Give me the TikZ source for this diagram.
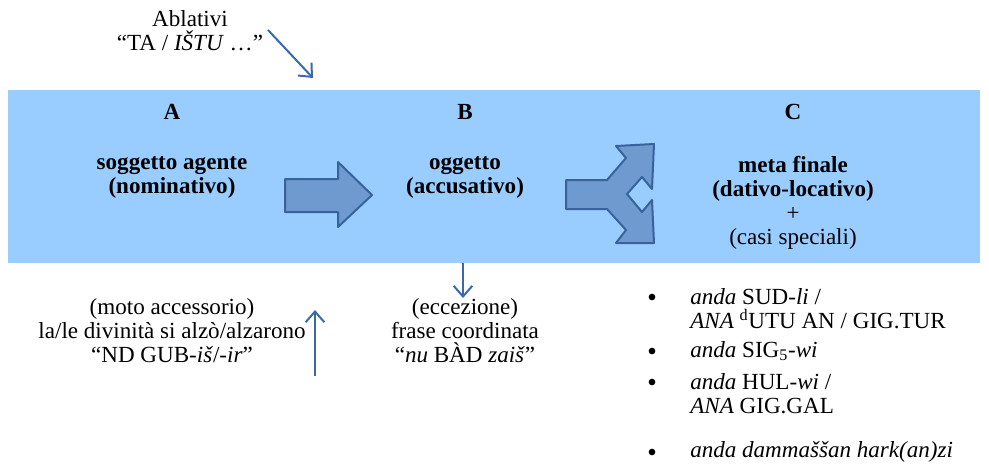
\documentclass[tikz,border=0pt]{standalone}
\usepackage{fontspec}
\setmainfont{Liberation Serif}
\usepackage{tikz}
\usetikzlibrary{arrows.meta}

\definecolor{bandblue}{RGB}{153,204,255}
\definecolor{blockfill}{RGB}{111,154,207}
\definecolor{blockline}{RGB}{55,98,158}
\definecolor{lineblue}{RGB}{58,104,170}

\begin{document}
\begin{tikzpicture}[x=0.75pt,y=-0.75pt,
  txt/.style={font=\fontsize{17.3}{18}\selectfont, align=center, inner sep=0pt},
  boldtxt/.style={txt, font=\fontsize{17.3}{18}\selectfont\bfseries},
  band/.style={fill=bandblue, draw=none, minimum width=729pt, minimum height=129.75pt, inner sep=0pt},
  block/.style={fill=blockfill, draw=blockline, line width=1.5pt, line join=round},
  thinarrow/.style={draw=lineblue, line width=1.5pt, -{Straight Barb[length=8pt,width=14pt]}},
  itemtxt/.style={txt, align=left, anchor=west},
  bulletmark/.style={circle, fill=black, inner sep=0pt, minimum size=5pt}]

  \useasboundingbox (0,0) rectangle (989,465);

  \node[band] (band) at (494,176.5) {};

  \node[txt] (ablativi) at (190,31) {Ablativi\\“TA / \textit{IŠTU} …”};

  \node[boldtxt] (labA) at (172,112) {A};
  \node[boldtxt] (labB) at (465,112) {B};
  \node[boldtxt] (labC) at (793,112) {C};

  \node[boldtxt] (soggetto) at (172,177) {soggetto agente\\(nominativo)};
  \node[boldtxt] (oggetto) at (465,177) {oggetto\\(accusativo)};
  \node[txt] (meta) at (793,203) {\textbf{meta finale}\\\textbf{(dativo-locativo)}\\+\\(casi speciali)};

  \draw[block] (285,179) -- (338,179) -- (338,162) -- (372,195) -- (338,227)
    -- (338,212) -- (285,212) -- cycle;

  \draw[block] (566,180) -- (607,180) -- (626,158) -- (616,146) -- (654,144)
    -- (652,189) -- (642,177) -- (627,194) -- (642,212) -- (652,200)
    -- (654,243) -- (616,243) -- (626,230) -- (607,209) -- (566,209) -- cycle;

  \node[txt] (moto) at (172,331) {(moto accessorio)\\la/le divinità si alzò/alzarono\\“ND GUB-\textit{iš}/\textit{-ir}”};
  \node[txt] (eccezione) at (465,331) {(eccezione)\\frase coordinata\\“\textit{nu} BÀD \textit{zaiš}”};

  \node[bulletmark] (bul1) at (652,297) {};
  \node[itemtxt] (item1) at (690,309) {\textit{anda} SUD-\textit{li} /\\\textit{ANA} \textsuperscript{d}UTU AN / GIG.TUR};
  \node[bulletmark] (bul2) at (652,351) {};
  \node[itemtxt] (item2) at (690,351) {\textit{anda} SIG\textsubscript{5}-\textit{wi}};
  \node[bulletmark] (bul3) at (652,382) {};
  \node[itemtxt] (item3) at (690,394) {\textit{anda} HUL-\textit{wi} /\\\textit{ANA} GIG.GAL};
  \node[bulletmark] (bul4) at (652,452) {};
  \node[itemtxt] (item4) at (690,452) {\textit{anda dammaššan hark(an)zi}};

  \coordinate (ablstart) at (268,30);
  \coordinate (ablend) at (313,78);
  \coordinate (ecctop) at (463,298);
  \coordinate (motostart) at (315,376);
  \coordinate (motoend) at (315,310);

  \draw[thinarrow] (ablstart) -- (ablend);
  \draw[thinarrow] (band.south -| ecctop) -- (ecctop);
  \draw[thinarrow] (motostart) -- (motoend);

\end{tikzpicture}
\end{document}
